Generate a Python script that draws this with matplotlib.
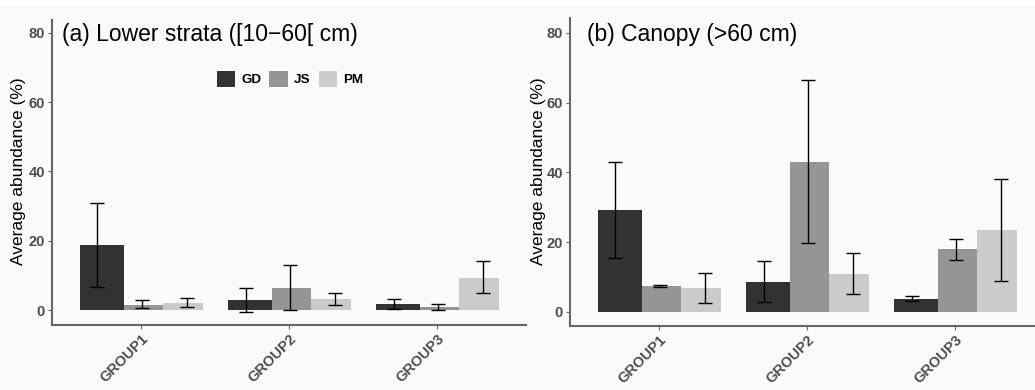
import matplotlib
matplotlib.use("Agg")
import matplotlib.pyplot as plt
from matplotlib.patches import Patch, Rectangle
import numpy as np

plt.rcParams['font.family'] = ['Liberation Sans', 'DejaVu Sans']

groups = ["GROUP1", "GROUP2", "GROUP3"]
species = ["GD", "JS", "PM"]
colors = ["#323232", "#959595", "#cbcbcb"]

# (a) Lower strata: mean, lower and upper error limits per species
lower_mean = {"GD": [18.8, 3.0, 1.6], "JS": [1.4, 6.4, 0.9], "PM": [2.0, 3.1, 9.3]}
lower_lo = {"GD": [6.6, -0.5, 0.2], "JS": [0.7, 0.0, 0.1], "PM": [1.0, 1.4, 4.8]}
lower_hi = {"GD": [31.0, 6.3, 3.3], "JS": [2.9, 13.0, 1.7], "PM": [3.4, 4.8, 14.1]}

# (b) Canopy
canopy_mean = {"GD": [29.2, 8.6, 3.7], "JS": [7.4, 42.9, 18.0], "PM": [6.7, 10.9, 23.4]}
canopy_lo = {"GD": [15.5, 2.9, 3.2], "JS": [7.2, 19.6, 14.8], "PM": [2.4, 5.1, 8.9]}
canopy_hi = {"GD": [42.9, 14.5, 4.4], "JS": [7.6, 66.4, 20.9], "PM": [11.1, 16.9, 38.1]}

titles = ["(a) Lower strata ([10\u221260[ cm)", "(b) Canopy (>60 cm)"]
yticks = [0, 20, 40, 60, 80]

W, H = 1035, 390
fig = plt.figure(figsize=(W / 100, H / 100), dpi=100, facecolor="#fafafa")
fig.patches.append(Rectangle((0, 1 - 6 / H), 1, 6 / H, transform=fig.transFigure,
                             facecolor="white", edgecolor="none", zorder=0))

def px(x0, y0, x1, y1):
    return [x0 / W, 1 - y1 / H, (x1 - x0) / W, (y1 - y0) / H]

bar_left = [-0.411, -0.114, 0.148]
bar_w = [0.297, 0.262, 0.270]
err_off = [-0.293, 0.005, 0.313]

axis_grey = "#666666"
tick_col = "#4d4d4d"

panels = [
    (px(52, 20, 526, 325), (-4.33, 83.75), lower_mean, lower_lo, lower_hi, 62, 35, 19),
    (px(570, 18, 1044, 325.7), (-4.0, 84.3), canopy_mean, canopy_lo, canopy_hi, 587, 34, 539),
]

x = np.arange(1, len(groups) + 1)
for i, (pos, ylim, mean, lo, hi, tx, ty, ylx) in enumerate(panels):
    ax = fig.add_axes(pos)
    ax.set_facecolor("#fafafa")
    for j, sp in enumerate(species):
        m = np.array(mean[sp])
        l = np.array(lo[sp])
        h = np.array(hi[sp])
        ax.bar(x + bar_left[j], m, width=bar_w[j], align="edge", color=colors[j],
               edgecolor="none", zorder=2)
        ax.errorbar(x + err_off[j], m, yerr=[m - l, h - m], fmt="none", ecolor="black",
                    elinewidth=1.0, capsize=5, capthick=1.0, zorder=3)
    ax.set_xlim(0.4, 3.6)
    ax.set_ylim(*ylim)
    ax.set_yticks(yticks)
    ax.set_yticklabels([str(v) for v in yticks], fontsize=10.5, fontweight="bold", color=tick_col)
    ax.set_xticks(x)
    ax.set_xticklabels(groups, rotation=45, ha="right", rotation_mode="anchor",
                       fontsize=10.5, fontweight="bold", color=tick_col)
    ax.tick_params(axis="both", length=3, width=0.8, color=axis_grey, pad=2)
    for s in ["top", "right"]:
        ax.spines[s].set_visible(False)
    for s in ["left", "bottom"]:
        ax.spines[s].set_color(axis_grey)
        ax.spines[s].set_linewidth(1.5)
    fig.text(tx / W, 1 - ty / H, titles[i], fontsize=16.5, va="center", ha="left", color="black")
    fig.text(ylx / W, 1 - 171 / H, "Average abundance (%)", fontsize=12.5, rotation=90,
             va="center", ha="center", color="black")
    if i == 0:
        handles = [Patch(facecolor=c, edgecolor="none") for c in colors]
        leg = fig.legend(handles, species, loc="center", bbox_to_anchor=(290 / W, 1 - 79 / H),
                         ncol=3, frameon=False, handlelength=1.4, handleheight=1.4,
                         handletextpad=0.45, columnspacing=0.6,
                         prop={"size": 9.6, "weight": "bold"})

fig.savefig("out.png", dpi=100, facecolor=fig.get_facecolor())
